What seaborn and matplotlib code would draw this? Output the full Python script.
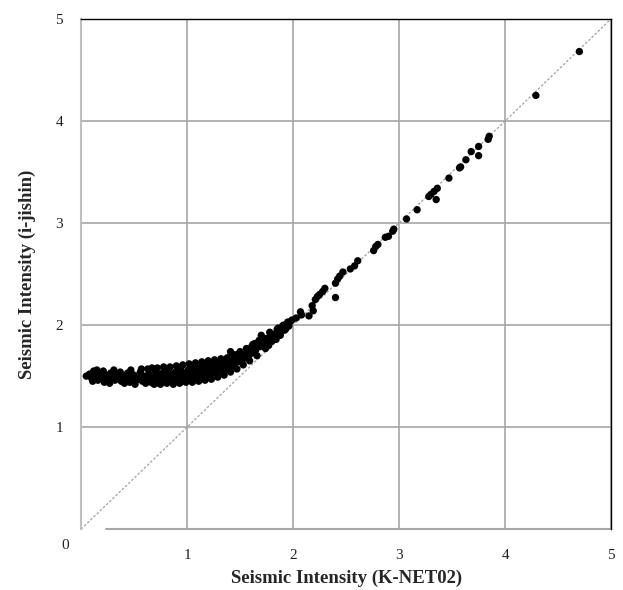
import matplotlib
matplotlib.use("Agg")
import matplotlib.pyplot as plt
import seaborn as sns
import pandas as pd

# K-NET02 intensity vs i-jishin intensity
knet = [
    0.05, 0.08, 0.10, 0.12, 0.14, 0.16, 0.18, 0.20, 0.22, 0.24, 0.26, 0.28, 0.30, 0.32,
    0.34, 0.35, 0.36, 0.38, 0.40, 0.42, 0.44, 0.45, 0.46, 0.48, 0.50, 0.52, 0.54, 0.55,
    0.56, 0.58, 0.60, 0.62, 0.64, 0.65, 0.66, 0.68, 0.70, 0.71, 0.72, 0.73, 0.74, 0.75,
    0.76, 0.77, 0.78, 0.79, 0.80, 0.82, 0.83, 0.84, 0.85, 0.86, 0.88, 0.89, 0.90, 0.91,
    0.92, 0.94, 0.95, 0.96, 0.97, 0.98, 1.00,
    0.11, 0.15, 0.21, 0.27, 0.31, 0.37, 0.41, 0.47, 0.51, 0.57, 0.61, 0.63, 0.67, 0.69,
    0.72, 0.75, 0.78, 0.81, 0.84, 0.87, 0.90, 0.93, 0.96, 0.99,
    1.01, 1.02, 1.03, 1.04, 1.05, 1.06, 1.07, 1.08, 1.09, 1.10, 1.11, 1.12, 1.13, 1.14,
    1.15, 1.16, 1.17, 1.18, 1.19, 1.20, 1.21, 1.22, 1.23, 1.24, 1.25, 1.26, 1.27, 1.28,
    1.29, 1.30, 1.31, 1.32, 1.33, 1.34, 1.35, 1.36, 1.37, 1.38, 1.39, 1.40, 1.41, 1.42,
    1.43, 1.44, 1.45, 1.46, 1.47, 1.48, 1.49, 1.50, 1.51, 1.52, 1.53, 1.55, 1.56, 1.58,
    1.59, 1.61, 1.62, 1.64, 1.65, 1.67, 1.69, 1.70, 1.71, 1.72, 1.73, 1.75, 1.76, 1.78,
    1.79, 1.81, 1.83, 1.85, 1.86, 1.88, 1.90, 1.91, 1.93, 1.95, 1.97, 1.99,
    1.02, 1.05, 1.08, 1.11, 1.14, 1.17, 1.20, 1.23, 1.26, 1.29, 1.32, 1.35, 1.38, 1.41,
    1.44, 1.47, 1.50, 1.53, 1.56, 1.59, 1.62, 1.66, 1.68, 1.74, 1.77, 1.80, 1.84, 1.87,
    1.92, 1.96,
    2.03, 2.07, 2.08, 2.15, 2.18, 2.19, 2.21, 2.23, 2.25, 2.28, 2.30, 2.40, 2.40, 2.42,
    2.44, 2.47, 2.54, 2.58, 2.61, 2.76, 2.78, 2.80, 2.87, 2.90, 2.94, 2.95,
    3.07, 3.17, 3.28, 3.30, 3.33, 3.36, 3.35, 3.47, 3.57, 3.58, 3.63, 3.68, 3.75, 3.75,
    3.84, 3.85, 4.29, 4.70,
]
ijishin = [
    1.50, 1.52, 1.48, 1.55, 1.50, 1.46, 1.53, 1.49, 1.44, 1.51, 1.47, 1.53, 1.50, 1.46,
    1.52, 1.51, 1.48, 1.45, 1.50, 1.47, 1.53, 1.50, 1.44, 1.49, 1.51, 1.46, 1.48, 1.47,
    1.54, 1.45, 1.50, 1.47, 1.52, 1.49, 1.44, 1.49, 1.55, 1.46, 1.52, 1.51, 1.43, 1.50,
    1.48, 1.53, 1.47, 1.45, 1.50, 1.56, 1.47, 1.48, 1.52, 1.44, 1.49, 1.54, 1.50, 1.46,
    1.51, 1.57, 1.48, 1.49, 1.53, 1.45, 1.50,
    1.45, 1.56, 1.55, 1.43, 1.56, 1.54, 1.43, 1.56, 1.42, 1.57, 1.43, 1.57, 1.58, 1.42,
    1.58, 1.42, 1.59, 1.43, 1.59, 1.42, 1.60, 1.43, 1.61, 1.44,
    1.56, 1.47, 1.52, 1.59, 1.50, 1.55, 1.48, 1.53, 1.58, 1.51, 1.56, 1.49, 1.54, 1.60,
    1.52, 1.57, 1.50, 1.55, 1.61, 1.53, 1.58, 1.51, 1.56, 1.62, 1.55, 1.59, 1.53, 1.58,
    1.63, 1.56, 1.61, 1.55, 1.59, 1.64, 1.58, 1.62, 1.56, 1.61, 1.66, 1.59, 1.74, 1.64,
    1.60, 1.67, 1.62, 1.66, 1.71, 1.64, 1.68, 1.69, 1.65, 1.70, 1.67, 1.72, 1.68, 1.75,
    1.71, 1.79, 1.73, 1.82, 1.76, 1.80, 1.79, 1.90, 1.83, 1.84, 1.86, 1.87, 1.82, 1.93,
    1.88, 1.91, 1.89, 1.96, 1.97, 1.90, 1.99, 2.00, 1.96, 2.03, 2.03, 2.05,
    1.62, 1.44, 1.63, 1.45, 1.64, 1.46, 1.65, 1.47, 1.66, 1.49, 1.67, 1.51, 1.68, 1.54,
    1.71, 1.57, 1.74, 1.61, 1.77, 1.65, 1.81, 1.70, 1.85, 1.77, 1.80, 1.84, 1.86, 1.93,
    1.95, 1.99,
    2.07, 2.13, 2.10, 2.09, 2.19, 2.14, 2.25, 2.28, 2.30, 2.33, 2.36, 2.41, 2.27, 2.45,
    2.48, 2.52, 2.55, 2.58, 2.63, 2.73, 2.77, 2.79, 2.86, 2.87, 2.92, 2.94,
    3.04, 3.13, 3.26, 3.28, 3.31, 3.34, 3.23, 3.44, 3.54, 3.55, 3.62, 3.70, 3.75, 3.66,
    3.82, 3.85, 4.25, 4.68,
]
ticks = [1, 2, 3, 4, 5]

df = pd.DataFrame({'knet': knet, 'ijishin': ijishin})

sns.set_style('white')
plt.rcParams['font.family'] = ['Liberation Serif', 'DejaVu Serif']

fig, ax = plt.subplots(figsize=(6.23, 5.90), dpi=100)
fig.subplots_adjust(left=0.130, right=0.981, top=0.968, bottom=0.103)

ax.set_xlim(0, 5)
ax.set_ylim(0, 5)
ax.set_xticks(ticks)
ax.set_yticks(ticks)
ax.grid(True, color='#a6a6a6', lw=1.2)
ax.set_axisbelow(True)

# 1:1 line
ax.plot([0, 5], [0, 5], color='#a0a0a0', lw=0.9, ls=(0, (2, 1.5)), zorder=2)

sns.scatterplot(data=df, x='knet', y='ijishin', ax=ax, color='black',
                s=28, edgecolor='none', zorder=3)

for side in ['top', 'right']:
    ax.spines[side].set_color('black')
    ax.spines[side].set_linewidth(1.0)
ax.spines['left'].set_color('#bfbfbf')
ax.spines['left'].set_linewidth(1.5)
ax.spines['bottom'].set_visible(False)
ax.axhline(0, xmin=0.047, xmax=1, color='#a6a6a6', lw=1.5, clip_on=False)

ax.tick_params(axis='both', length=0, labelsize=11, colors='#222222')
ax.tick_params(axis='y', pad=13)
ax.tick_params(axis='x', pad=14)
ax.text(-0.030, -0.031, '0', transform=ax.transAxes, ha='center', va='center',
        fontsize=11, color='#222222')

ax.set_xlabel('Seismic Intensity (K-NET02)', fontsize=13.5, fontweight='bold', labelpad=6)
ax.set_ylabel('Seismic Intensity (i-jishin)', fontsize=13.5, fontweight='bold', labelpad=14)

fig.savefig('out.png', dpi=100)
